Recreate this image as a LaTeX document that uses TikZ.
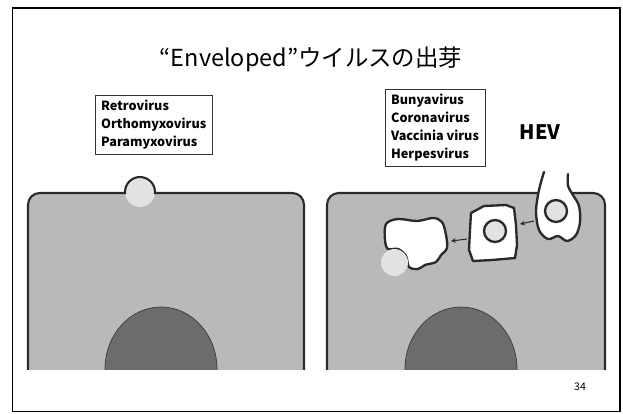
\documentclass[tikz,border=0pt]{standalone}
\usepackage{fontspec}
\setmainfont{Noto Sans CJK JP}
\usetikzlibrary{positioning, arrows.meta}
\definecolor{cellgray}{HTML}{B9B9B9}
\definecolor{nucgray}{HTML}{6C6C6C}
\definecolor{nucedge}{HTML}{3C3C3C}
\definecolor{membrane}{HTML}{2A2A2A}
\definecolor{virusgray}{HTML}{E2E2E2}

\begin{document}
\begin{tikzpicture}[x=0.03cm, y=-0.03cm,
    frame/.style={draw=black, line width=1.2pt},
    cell/.style={fill=cellgray, draw=membrane, line width=1.8pt, rounded corners=10pt},
    nucleus/.style={fill=nucgray, draw=nucedge, line width=0.6pt},
    virion/.style={fill=virusgray},
    vesicle/.style={fill=white, draw=membrane, line width=2pt, line join=round},
    capsid/.style={fill=virusgray, draw=membrane, line width=2pt},
    namebox/.style={draw=black!80, line width=0.5pt, align=left, inner xsep=5pt, inner ysep=4pt,
        font=\fontsize{10.8}{15.4}\selectfont\bfseries},
    arr/.style={-{Stealth[length=4pt, width=4pt]}, line width=0.9pt, draw=membrane},
]
\fill[white] (0,0) rectangle (623,413);
\useasboundingbox (0,0) rectangle (623,413);

% ===== Slide frame and labels =====
\draw[frame] (12.5,8) rectangle (620,411.5);
\node[font=\fontsize{20}{24}\selectfont] (title) at (311,59) {“Enveloped”ウイルスの出芽};

\node[namebox, anchor=north west] (retro) at (95,95) {Retrovirus\\Orthomyxovirus\\Paramyxovirus};
\node[namebox, anchor=north west] (bunya) at (385,89) {Bunyavirus\\Coronavirus\\Vaccinia virus\\Herpesvirus};
\node[font=\fontsize{17}{20}\selectfont\bfseries] (hev) at (540,132) {HEV};
\node[font=\fontsize{9}{11}\selectfont] (page) at (580,387) {34};

% ===== Cells, cut off at the bottom =====
\begin{scope}
  \clip (0,0) rectangle (623,369);
  \draw[cell] (28,193) rectangle (304,420);
  \draw[cell] (327,193) rectangle (605,420);
  \draw[nucleus] (161,369) ellipse[x radius=56, y radius=62];
  \draw[nucleus] (461,369) ellipse[x radius=56, y radius=62];
\end{scope}

% ===== Left cell: budding at the surface =====
\fill[virion] (140,192) circle[radius=15];
\draw[membrane, line width=1.8pt] (140,192) ++(172:15) arc[start angle=172, end angle=368, radius=15];

% ===== Right cell: budding into vesicles =====
\draw[vesicle] plot[smooth cycle, tension=0.55] coordinates {(386,224) (398,219) (417,221) (433,218)
  (442,222) (446,235) (447,248) (441,255) (436,262) (425,265) (418,269) (409,267) (406,256)
  (398,249) (388,249) (385,240)};
\fill[virion] (394.5,262.5) circle[radius=13.5];

\draw[vesicle] (471,213) -- (484,206) -- (506,205) -- (514,208) -- (516,225) -- (517,245)
  -- (515,258) -- (492,260) -- (473,261) -- (469,250) -- (470,230) -- cycle;
\draw[capsid] (495,231) circle[radius=11];

\fill[white] plot[smooth cycle, tension=0.55] coordinates {(544,172) (541,182) (538,195) (536,212)
  (539,230) (548,239) (558,236) (567,241) (576,235) (580,222) (579,206) (573,195) (568,186) (568,174)};
\draw[membrane, line width=2pt, line cap=round] plot[smooth, tension=0.55] coordinates {(544,172)
  (541,182) (538,195) (536,212) (539,230) (548,239) (558,236) (567,241) (576,235) (580,222)
  (579,206) (573,195) (568,186) (568,174)};
\draw[capsid] (556,211) circle[radius=11];

\coordinate (a1s) at (467,239);
\coordinate (a1e) at (451,241);
\coordinate (a2s) at (534,221);
\coordinate (a2e) at (520,224);
\draw[arr] (a1s) -- (a1e);
\draw[arr] (a2s) -- (a2e);

\end{tikzpicture}
\end{document}
